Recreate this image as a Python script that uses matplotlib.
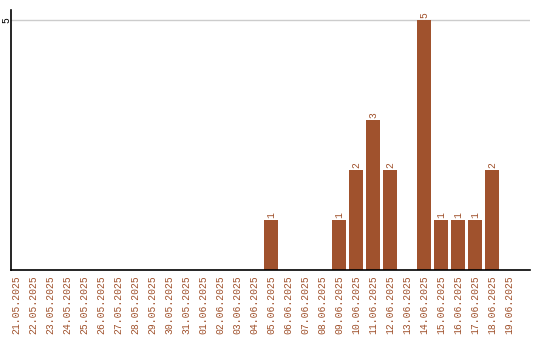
import matplotlib
matplotlib.use('Agg')
import matplotlib.pyplot as plt

dates = ['21.05.2025', '22.05.2025', '23.05.2025', '24.05.2025', '25.05.2025',
         '26.05.2025', '27.05.2025', '28.05.2025', '29.05.2025', '30.05.2025',
         '31.05.2025', '01.06.2025', '02.06.2025', '03.06.2025', '04.06.2025',
         '05.06.2025', '06.06.2025', '07.06.2025', '08.06.2025', '09.06.2025',
         '10.06.2025', '11.06.2025', '12.06.2025', '13.06.2025', '14.06.2025',
         '15.06.2025', '16.06.2025', '17.06.2025', '18.06.2025', '19.06.2025']
counts = [0, 0, 0, 0, 0, 0, 0, 0, 0, 0,
          0, 0, 0, 0, 0, 1, 0, 0, 0, 1,
          2, 3, 2, 0, 5, 1, 1, 1, 2, 0]

brown = '#A0522D'
plt.rcParams['font.family'] = ['Liberation Mono', 'DejaVu Sans Mono']

fig = plt.figure(figsize=(5.4, 3.4), dpi=100)
ax = fig.add_axes([0.0204, 0.2059, 0.9611, 0.7647])

x = list(range(len(dates)))
ax.axhline(5, color='#cccccc', linewidth=1, zorder=0)
ax.bar(x, counts, width=0.78, color=brown, zorder=2)

# value labels above the bars
for xi, c in zip(x, counts):
    if c > 0:
        ax.text(xi, c + 0.04, str(c), rotation=90, ha='center', va='bottom',
                fontsize=7, color=brown)

ax.set_xlim(-0.3, 30.24)
ax.set_ylim(0, 5.2)
ax.set_xticks(x)
ax.set_xticklabels(dates, rotation=90, fontsize=7, color=brown)
ax.set_yticks([5])
ax.set_yticklabels(['5'], rotation=90, fontsize=7, va='center')
ax.tick_params(axis='x', length=0, pad=4)
ax.tick_params(axis='y', length=0, pad=0)

ax.spines['top'].set_visible(False)
ax.spines['right'].set_visible(False)
ax.spines['left'].set_linewidth(1.2)
ax.spines['bottom'].set_linewidth(1.2)

plt.savefig('out.png', dpi=100)
